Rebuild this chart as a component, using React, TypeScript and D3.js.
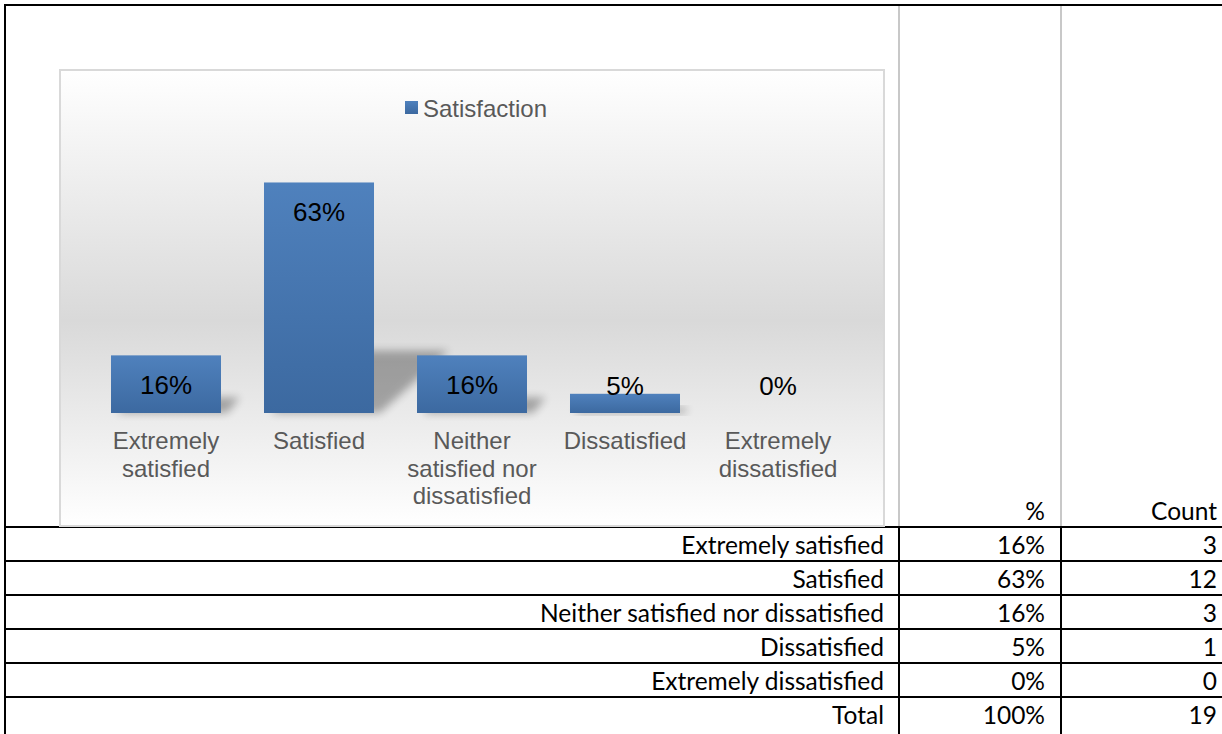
import React from "react";
import * as d3 from "d3";

const categories = [
  "Extremely satisfied",
  "Satisfied",
  "Neither satisfied nor dissatisfied",
  "Dissatisfied",
  "Extremely dissatisfied",
];
const categoryLines = [
  ["Extremely", "satisfied"],
  ["Satisfied"],
  ["Neither", "satisfied nor", "dissatisfied"],
  ["Dissatisfied"],
  ["Extremely", "dissatisfied"],
];
const counts = [3, 12, 3, 1, 0];
const seriesName = "Satisfaction";
const tableHeaders = ["%", "Count"];
const totalLabel = "Total";

const W = 1222;
const H = 734;

export default function App() {
  const total = d3.sum(counts);
  const pct = counts.map((c) => c / total);
  const fmt = d3.format(".0%");

  const x = d3
    .scaleBand<string>()
    .domain(categories)
    .range([68, 876])
    .paddingInner(0.281)
    .paddingOuter(0.281);
  const y = d3.scaleLinear().domain([0, 0.7]).range([413, 157.5]);
  const base = y(0);

  // table geometry
  const rowTop = 527;
  const rowH = 34;
  const col1 = 899;
  const col2 = 1061;
  const rows = categories.map((c, i) => ({ label: c, p: fmt(pct[i]), n: String(counts[i]) }));
  rows.push({ label: totalLabel, p: fmt(d3.sum(pct)), n: String(total) });

  const tableFont = "Lato, 'Open Sans', sans-serif";
  const tableSize = 24.5;
  const chartFont = "'Liberation Sans', Arial, sans-serif";

  return (
    <svg
      width={W}
      height={H}
      style={{ position: "absolute", left: 0, top: 0, background: "#fff" }}
    >
      <defs>
        <linearGradient id="bg" x1="0" y1="0" x2="0" y2="1">
          <stop offset="0" stopColor="#ffffff" />
          <stop offset="0.55" stopColor="#d9d9d9" />
          <stop offset="1" stopColor="#ffffff" />
        </linearGradient>
        <linearGradient id="bar" x1="0" y1="0" x2="0" y2="1">
          <stop offset="0" stopColor="#4f81bd" />
          <stop offset="1" stopColor="#3c69a0" />
        </linearGradient>
        <filter id="blur" x="-50%" y="-50%" width="200%" height="200%">
          <feGaussianBlur stdDeviation="4" />
        </filter>
      </defs>

      {/* gray grid lines in upper area */}
      <line x1={col1} x2={col1} y1={5} y2={rowTop} stroke="#c8c8c8" strokeWidth={2} />
      <line x1={col2} x2={col2} y1={5} y2={rowTop} stroke="#c8c8c8" strokeWidth={2} />

      {/* table lines */}
      {rows.map((_, i) => (
        <line
          key={"h" + i}
          x1={5}
          x2={W}
          y1={rowTop + i * rowH}
          y2={rowTop + i * rowH}
          stroke="#000"
          strokeWidth={2}
        />
      ))}
      <line x1={col1} x2={col1} y1={rowTop} y2={H} stroke="#000" strokeWidth={2} />
      <line x1={col2} x2={col2} y1={rowTop} y2={H} stroke="#000" strokeWidth={2} />
      {/* outer border */}
      <line x1={5} x2={W} y1={5} y2={5} stroke="#000" strokeWidth={2} />
      <line x1={5} x2={5} y1={4} y2={H} stroke="#000" strokeWidth={2} />

      {/* header */}
      <text x={1045} y={520} textAnchor="end" fontFamily={tableFont} fontSize={tableSize} fill="#000">
        {tableHeaders[0]}
      </text>
      <text x={1217} y={520} textAnchor="end" fontFamily={tableFont} fontSize={tableSize} fill="#000">
        {tableHeaders[1]}
      </text>
      {rows.map((r, i) => {
        const by = rowTop + (i + 1) * rowH - 7;
        return (
          <g key={"r" + i} fontFamily={tableFont} fontSize={tableSize} fill="#000" textAnchor="end">
            <text x={884} y={by}>{r.label}</text>
            <text x={1045} y={by}>{r.p}</text>
            <text x={1217} y={by}>{r.n}</text>
          </g>
        );
      })}

      {/* chart box */}
      <rect x={60} y={70} width={824} height={456} fill="url(#bg)" stroke="#d9d9d9" strokeWidth={2} />

      {/* legend */}
      <rect x={405} y={101} width={13} height={13} fill="url(#bar)" />
      <text x={423} y={117} fontFamily={chartFont} fontSize={24} fill="#595959">
        {seriesName}
      </text>

      {/* shadows */}
      {pct.map((v, i) => {
        const x0 = x(categories[i])!;
        const x1 = x0 + x.bandwidth();
        const h = base - y(v);
        if (h <= 0) return null;
        const hs = h * 0.27;
        const k = 1.2 * hs;
        const pts = [
          [x0 + 6, base],
          [x1 + 6, base],
          [x1 + k, base - hs],
          [x0 + k, base - hs],
        ];
        return (
          <polygon
            key={"s" + i}
            points={pts.map((p) => p.join(",")).join(" ")}
            fill="#000"
            opacity={0.3}
            filter="url(#blur)"
          />
        );
      })}

      {/* bars */}
      {pct.map((v, i) => (
        <rect
          key={"b" + i}
          x={x(categories[i])}
          y={y(v)}
          width={x.bandwidth()}
          height={base - y(v)}
          fill="url(#bar)"
        />
      ))}

      {/* data labels */}
      {pct.map((v, i) => (
        <text
          key={"l" + i}
          x={x(categories[i])! + x.bandwidth() / 2}
          y={Math.min(y(v) + 38.5, 395)}
          textAnchor="middle"
          fontFamily={chartFont}
          fontSize={26}
          fill="#000"
        >
          {fmt(v)}
        </text>
      ))}

      {/* category labels */}
      {categoryLines.map((lines, i) => (
        <text
          key={"c" + i}
          textAnchor="middle"
          fontFamily={chartFont}
          fontSize={24}
          fill="#595959"
        >
          {lines.map((ln, j) => (
            <tspan key={j} x={x(categories[i])! + x.bandwidth() / 2} y={449 + j * 27.5}>
              {ln}
            </tspan>
          ))}
        </text>
      ))}
    </svg>
  );
}
